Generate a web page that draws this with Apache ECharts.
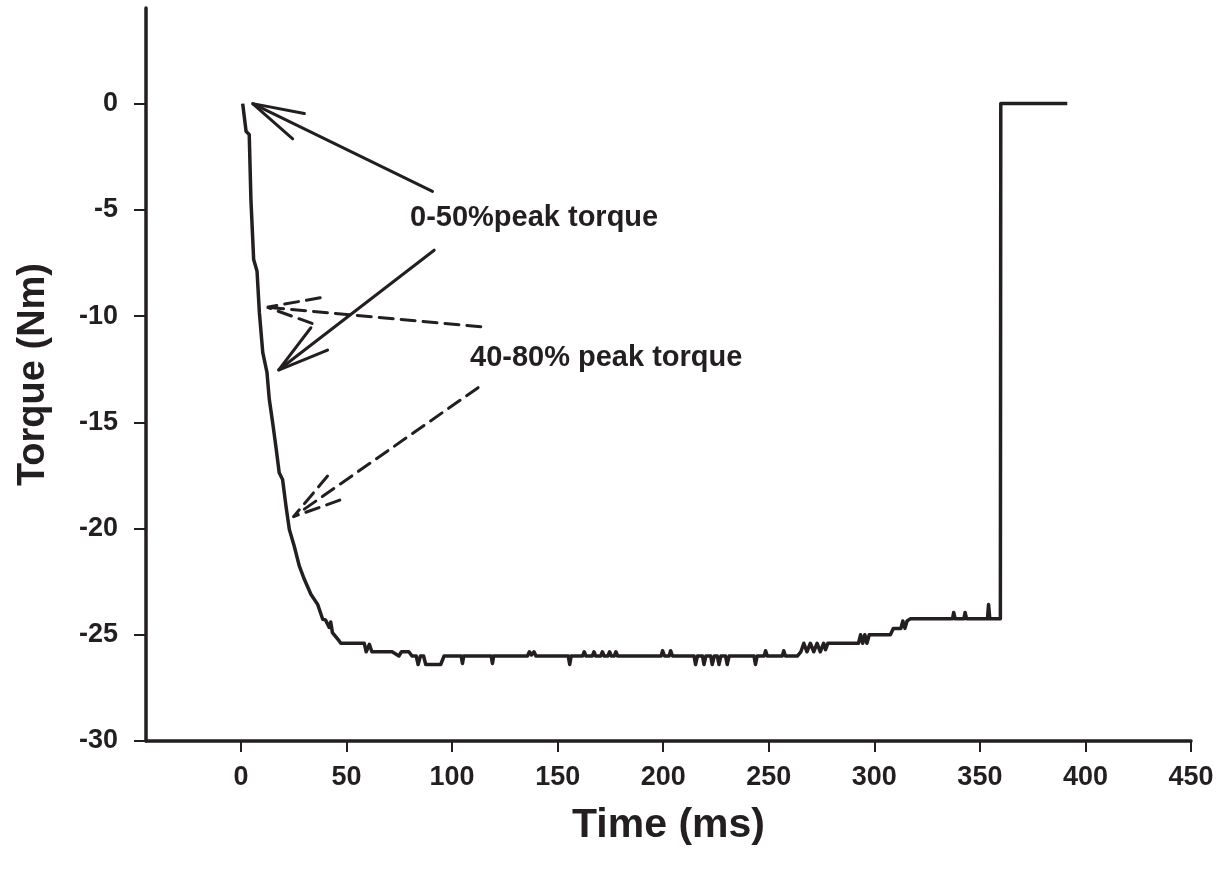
<!DOCTYPE html>
<html lang="en">
<head>
<meta charset="UTF-8">
<title>torque vs time</title>
<script src="https://cdn.jsdelivr.net/npm/echarts@6/dist/echarts.min.js"></script>
<style>html, body { margin: 0; background: #fff; }</style>
</head>
<body>
<div id="main" style="width: 1230px; height: 873px;"></div>
<script>
// torque trace
var timeMs = [0.8, 2.4, 3.9, 4.7, 6.0, 7.6, 8.7, 10.3, 12.3, 13.4, 15.0, 16.6, 18.1, 19.7, 21.3, 22.9,
    25.2, 27.6, 30.0, 33.1, 36.3, 38.7, 40.0, 41.8, 42.5, 43.3, 44.2, 46.5, 47.3,
    58.4, 59.3, 60.8, 62.0, 71.6, 74.8, 76.0, 79.5, 81.0, 83.0, 83.9, 85.0, 86.5, 87.5, 94.6, 96.2,
    104.3, 104.9, 105.5, 118.5, 119.1, 119.7, 135.7, 136.6, 137.6, 138.8, 139.7,
    155.0, 155.7, 156.4, 161.8, 162.6, 163.4, 166.4, 167.2, 168.0, 170.4, 171.2, 172.0,
    173.8, 174.6, 175.4, 176.8, 177.6, 178.4, 199.0, 199.7, 200.6, 202.8, 203.5, 204.4,
    214.6, 215.3, 216.2, 218.6, 219.3, 220.2, 222.5, 223.2, 224.2, 225.6, 226.4, 227.3,
    229.5, 230.3, 231.2, 243.0, 243.7, 244.5, 247.8, 248.5, 249.3, 256.4, 257.1, 257.9,
    263.5, 265.2, 266.6, 268.1, 269.7, 271.3, 272.9, 274.4, 276.0, 276.9, 278.0,
    292.5, 293.5, 294.5, 295.5, 296.5, 297.6, 307.6, 309.0, 312.6, 313.5, 314.5, 315.5, 317.0,
    337.0, 337.6, 338.3, 342.4, 343.0, 343.7, 353.6, 354.1, 354.7, 359.7, 359.9, 391.4];
var torqueNm = [0, -1.3, -1.46, -4.52, -7.34, -7.89, -9.83, -11.71, -12.65, -13.92, -15.02, -16.2, -17.37, -17.69, -18.94, -20.04,
    -20.82, -21.76, -22.39, -23.09, -23.57, -24.27, -24.3, -24.66, -24.4, -24.9, -24.98, -25.29, -25.4,
    -25.4, -25.8, -25.45, -25.8, -25.8, -26.0, -25.8, -25.8, -26.0, -26.0, -26.4, -26.0, -26.0, -26.4, -26.4, -26.0,
    -26.0, -26.35, -26.0, -26.0, -26.35, -26.0, -26.0, -25.8, -25.95, -25.8, -26.0,
    -26.0, -26.4, -26.0, -26.0, -25.8, -26.0, -26.0, -25.8, -26.0, -26.0, -25.8, -26.0,
    -26.0, -25.8, -26.0, -26.0, -25.8, -26.0, -26.0, -25.75, -26.0, -26.0, -25.75, -26.0,
    -26.0, -26.4, -26.0, -26.0, -26.4, -26.0, -26.0, -26.4, -26.0, -26.0, -26.4, -26.0,
    -26.0, -26.4, -26.0, -26.0, -26.4, -26.0, -26.0, -25.75, -26.0, -26.0, -25.75, -26.0,
    -26.0, -25.8, -25.4, -25.8, -25.4, -25.8, -25.4, -25.8, -25.4, -25.7, -25.4,
    -25.4, -25.0, -25.4, -25.0, -25.4, -25.0, -25.0, -24.7, -24.7, -24.35, -24.7, -24.35, -24.25,
    -24.25, -23.95, -24.25, -24.25, -23.95, -24.25, -24.25, -23.57, -24.25, -24.25, 0, 0];

var xTicks = [0, 50, 100, 150, 200, 250, 300, 350, 400, 450];
var yTicks = [-30, -25, -20, -15, -10, -5, 0];

// annotation arrows as [time, torque]
var arrow1Shaft = [[90.7, -4.13], [5.5, 0]];
var arrow1Head = [[30.0, -0.47], [5.5, 0], [24.5, -1.66]];
var arrow2Shaft = [[91.5, -6.90], [17.8, -12.54]];
var arrow2Head = [[41.0, -11.60], [17.8, -12.54], [33.1, -10.55]];
var arrow3Shaft = [[113.6, -10.50], [12.3, -9.58]];
var arrow3Head = [[37.5, -9.14], [12.3, -9.58], [36.3, -10.44]];
var arrow4Shaft = [[112.3, -13.37], [24.9, -19.44]];
var arrow4Head = [[41.0, -17.53], [24.9, -19.44], [48.9, -18.59]];

var ink = '#231f20';
var font = '"Liberation Sans", Arial, sans-serif';

var trace = [];
for (var i = 0; i < timeMs.length; i++) {
    trace.push([timeMs[i], torqueNm[i]]);
}

function arrowSeries(pts, dashed) {
    return {
        type: 'line',
        data: pts,
        showSymbol: false,
        silent: true,
        lineStyle: { color: ink, width: 3, type: dashed ? [14, 8] : 'solid', cap: 'round' }
    };
}

var myChart = echarts.init(document.getElementById('main'));

myChart.setOption({
    animation: false,
    backgroundColor: '#fff',
    grid: { left: 146, right: 39, top: 8, bottom: 132 },
    xAxis: {
        type: 'value',
        min: -45,
        max: 450,
        name: 'Time (ms)',
        nameLocation: 'middle',
        nameGap: 64,
        nameTextStyle: { color: ink, fontSize: 41, fontWeight: 'bold', fontFamily: font },
        axisLine: { onZero: false, lineStyle: { color: ink, width: 3.5 } },
        axisTick: { customValues: xTicks, length: 11, lineStyle: { color: ink, width: 2 } },
        axisLabel: { customValues: xTicks, margin: 23, color: ink, fontSize: 27, fontWeight: 'bold', fontFamily: font },
        splitLine: { show: false }
    },
    yAxis: {
        type: 'value',
        min: -30,
        max: 4.5,
        name: 'Torque (Nm)',
        nameLocation: 'middle',
        nameRotate: 90,
        nameGap: 93,
        nameTextStyle: { color: ink, fontSize: 38, fontWeight: 'bold', fontFamily: font },
        axisLine: { onZero: false, lineStyle: { color: ink, width: 3.5 } },
        axisTick: { customValues: yTicks, length: 12, lineStyle: { color: ink, width: 2 } },
        axisLabel: { customValues: yTicks, margin: 28, color: ink, fontSize: 27, fontWeight: 'bold', fontFamily: font },
        splitLine: { show: false }
    },
    graphic: [
        { type: 'text', left: 410, top: 203, style: { text: '0-50%peak torque', fill: ink, font: 'bold 29px ' + font } },
        { type: 'text', left: 470, top: 343, style: { text: '40-80% peak torque', fill: ink, font: 'bold 29px ' + font } }
    ],
    series: [
        {
            type: 'line',
            data: trace,
            showSymbol: false,
            lineStyle: { color: ink, width: 3.5, join: 'round' }
        },
        arrowSeries(arrow1Shaft, false),
        arrowSeries(arrow1Head, false),
        arrowSeries(arrow2Shaft, false),
        arrowSeries(arrow2Head, false),
        arrowSeries(arrow3Shaft, true),
        arrowSeries(arrow3Head, true),
        arrowSeries(arrow4Shaft, true),
        arrowSeries(arrow4Head, true)
    ]
});
</script>
</body>
</html>
